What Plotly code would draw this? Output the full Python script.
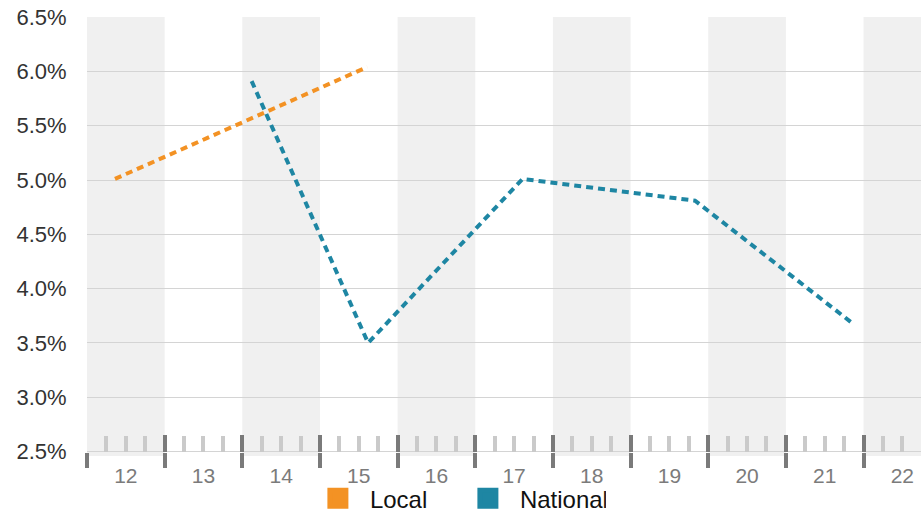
import plotly.graph_objects as go

categories = [12, 13, 14, 15, 16, 17, 18, 19, 20, 21, 22]
tick_labels = [str(c) for c in categories]
y_ticks = [2.5, 3.0, 3.5, 4.0, 4.5, 5.0, 5.5, 6.0, 6.5]

local_x = [11.86, 15.11]
local_y = [5.01, 6.04]
national_x = [13.62, 15.12, 17.11, 19.33, 21.36]
national_y = [5.91, 3.50, 5.01, 4.81, 3.68]

ORANGE = "#F39224"
TEAL = "#1E86A3"
FONT = "Liberation Sans, Arial, sans-serif"

boundaries = [c - 0.5 for c in categories] + [categories[-1] + 0.5]
quarters = [b + q for b in boundaries[:-1] for q in (0.25, 0.5, 0.75)]

fig = go.Figure()
fig.add_trace(go.Scatter(x=local_x, y=local_y, mode="lines", name="Local",
                         line=dict(color=ORANGE, width=4, dash="7px,5px"),
                         showlegend=False, hoverinfo="skip"))
fig.add_trace(go.Scatter(x=national_x, y=national_y, mode="lines", name="National",
                         line=dict(color=TEAL, width=4, dash="7px,5px"),
                         showlegend=False, hoverinfo="skip"))
for name, col in (("Local", ORANGE), ("National", TEAL)):
    fig.add_trace(go.Scatter(x=[None], y=[None], mode="markers", name=name,
                             marker=dict(symbol="square", size=16, color=col,
                                         line=dict(color=col, width=5))))

for i, c in enumerate(categories):
    if i % 2 == 0:
        fig.add_vrect(x0=c - 0.5, x1=c + 0.5, fillcolor="#f0f0f0", line_width=0,
                      layer="below")

xrange = [11.5, 22.24]
AXPOS = 0.0098
common = dict(overlaying="x", matches="x", anchor="free", position=AXPOS,
              tickmode="array", showticklabels=False, showgrid=False,
              zeroline=False, showline=False, automargin=False)
fig.update_layout(
    width=921, height=513,
    margin=dict(l=87, r=0, t=17, b=57, autoexpand=False),
    paper_bgcolor="white", plot_bgcolor="white",
    font=dict(family=FONT),
    xaxis=dict(range=xrange, tickmode="array", tickvals=categories, ticktext=tick_labels,
               ticks="outside", ticklen=1, tickcolor="rgba(0,0,0,0)",
               tickfont=dict(size=21, color="#7b7b7b"), automargin=False,
               ticklabeloverflow="allow",
               showgrid=False, zeroline=False, showline=False),
    xaxis2=dict(tickvals=boundaries, ticks="inside", ticklen=17, tickwidth=4,
                tickcolor="#7a7a7a", **common),
    xaxis3=dict(tickvals=boundaries, ticks="outside", ticklen=15, tickwidth=4,
                tickcolor="#7a7a7a", **common),
    xaxis4=dict(tickvals=quarters, ticks="inside", ticklen=16, tickwidth=3.5,
                tickcolor="#cacaca", **common),
    yaxis=dict(range=[2.46, 6.5], tickmode="array", tickvals=y_ticks,
               ticktext=[f"{v:.1f}%" for v in y_ticks],
               ticks="outside", ticklen=15, tickcolor="rgba(0,0,0,0)",
               tickfont=dict(size=22, color="#333333"), automargin=False,
               ticklabeloverflow="allow",
               showgrid=True, gridcolor="#d4d4d4", gridwidth=1,
               zeroline=False, showline=False),
    legend=dict(orientation="h", xref="container", yref="container",
                x=0.495, xanchor="center", y=0.028, yanchor="middle",
                font=dict(size=24, color="#111111"), itemwidth=54, entrywidth=81,
                bgcolor="rgba(0,0,0,0)"),
    showlegend=True,
)
for ax in ("x2", "x3", "x4"):
    fig.add_trace(go.Scatter(x=[None], y=[None], xaxis=ax, showlegend=False, hoverinfo="skip"))

fig.write_html("out.html", config={"displayModeBar": False},
               post_script="document.body.style.margin='0';document.body.style.overflow='hidden';")
